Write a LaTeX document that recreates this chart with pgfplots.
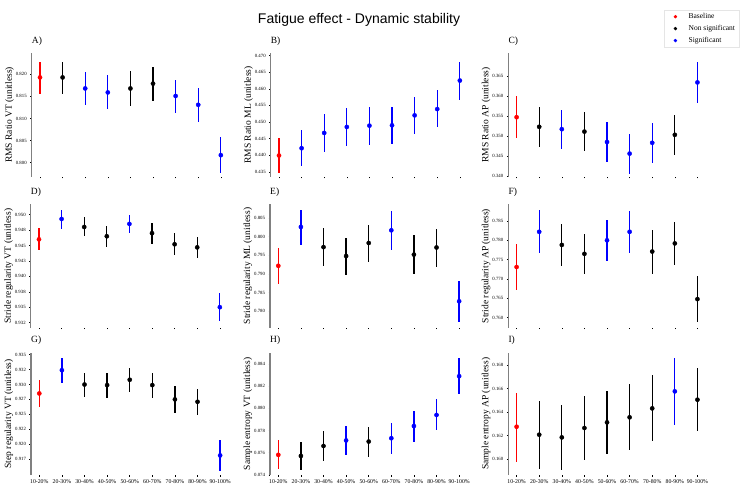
\documentclass[border=0pt]{standalone}
\usepackage{fontspec}
\setmainfont{Liberation Serif}
\newfontfamily\titlefont{Liberation Sans}
\usepackage{pgfplots}
\pgfplotsset{compat=1.18}

\pgfplotsset{
  panel/.style={
    scale only axis, width=197.5pt, xmin=0.633, xmax=9.37,
    axis y line*=left, axis x line*=bottom,
    x axis line style={draw=none},
    y axis line style={-, draw=gray, line width=1.2pt},
    xtick={1,...,9}, xticklabels={},
    tick align=outside, major tick length=1.5pt,
    tick style={black, line width=0.5pt},
    scaled y ticks=false,
    /pgf/number format/assume math mode=true,
    /pgf/number format/fixed, /pgf/number format/fixed zerofill, /pgf/number format/precision=3,
    yticklabel style={font=\fontsize{4.8}{5}\selectfont},
    xticklabel style={font=\fontsize{5.8}{6}\selectfont},
    ylabel style={font=\fontsize{9.5}{11}\selectfont, at={(axis description cs:-0.112,0.5)}, anchor=center},
    title style={font=\fontsize{9.5}{11}\selectfont, at={(axis description cs:0,1)}, anchor=west, yshift=6pt, inner sep=0pt},
    anchor=south west, clip=false,
  },
  row1/.style={panel, height=124pt},
  row2/.style={panel, height=123.4pt},
  row3/.style={panel, height=122.3pt,
    xticklabels={10-20\%,20-30\%,30-40\%,40-50\%,50-60\%,60-70\%,70-80\%,80-90\%,90-100\%}},
  pt/.style={only marks, mark=*, mark size=2.1pt,
    error bars/y dir=both, error bars/y explicit, error bars/error mark=none},
  redp/.style={pt, red, error bars/error bar style={red, line width=1.3pt}},
  blackp/.style={pt, black, error bars/error bar style={black, line width=1.3pt}},
  bluep/.style={pt, blue, error bars/error bar style={blue, line width=1.3pt}},
}

\begin{document}
\begin{tikzpicture}
\useasboundingbox (0,0) rectangle (750pt,491pt);
\node[font=\titlefont\fontsize{14}{16}\selectfont] at (359pt,471pt) {Fatigue effect - Dynamic stability};

% ---------- row 1 ----------
\begin{axis}[row1, at={(31.7pt,314pt)}, ymin=0.79675, ymax=0.82483,
  ytick={0.800,0.805,0.810,0.815,0.820}, ylabel={RMS Ratio VT (unitless)}, title={A)}]
\addplot[redp] coordinates {(1,0.8193) += (0,0.0036) -= (0,0.0038)};
\addplot[blackp] coordinates {(2,0.8193) += (0,0.0036) -= (0,0.0038)
  (5,0.8168) += (0,0.0039) -= (0,0.0040) (6,0.8179) += (0,0.0038) -= (0,0.0039)};
\addplot[bluep] coordinates {(3,0.8168) += (0,0.0037) -= (0,0.0038)
  (4,0.8159) += (0,0.0039) -= (0,0.0038) (7,0.8151) += (0,0.0037) -= (0,0.0038)
  (8,0.8131) += (0,0.0038) -= (0,0.0038) (9,0.8017) += (0,0.0041) -= (0,0.0041)};
\end{axis}

\begin{axis}[row1, at={(270.7pt,314pt)}, ymin=0.43342, ymax=0.4708,
  ytick={0.435,0.440,0.445,0.450,0.455,0.460,0.465,0.470}, ylabel={RMS Ratio ML (unitless)}, title={B)}]
\addplot[redp] coordinates {(1,0.4399) += (0,0.0052) -= (0,0.0053)};
\addplot[bluep] coordinates {(2,0.4421) += (0,0.0055) -= (0,0.0055)
  (3,0.4467) += (0,0.0056) -= (0,0.0056) (4,0.4485) += (0,0.0056) -= (0,0.0057)
  (5,0.4489) += (0,0.0056) -= (0,0.0058) (6,0.4490) += (0,0.0055) -= (0,0.0057)
  (7,0.4520) += (0,0.0056) -= (0,0.0057) (8,0.4539) += (0,0.0056) -= (0,0.0055)
  (9,0.4625) += (0,0.0057) -= (0,0.0058)};
\end{axis}

\begin{axis}[row1, at={(508.3pt,314pt)}, ymin=0.33975, ymax=0.37075,
  ytick={0.340,0.345,0.350,0.355,0.360,0.365}, ylabel={RMS Ratio AP (unitless)}, title={C)},
  legend style={at={(axis description cs:0.7884,1.35)}, anchor=north west,
    draw=gray!20, fill=white, font=\fontsize{7.5}{9}\selectfont, legend cell align=left,
    row sep=1.2pt, inner xsep=2pt, inner ysep=1.5pt},
  legend image code/.code={\path (0pt,0pt) (20pt,0pt); \draw[#1] plot coordinates {(9pt,0pt)};}]
\addplot[redp, forget plot] coordinates {(1,0.3547) += (0,0.0052) -= (0,0.0053)};
\addplot[blackp, forget plot] coordinates {(2,0.3523) += (0,0.0049) -= (0,0.0051)
  (4,0.3511) += (0,0.0049) -= (0,0.0049) (8,0.3503) += (0,0.0049) -= (0,0.0051)};
\addplot[bluep, forget plot] coordinates {(3,0.3517) += (0,0.0049) -= (0,0.0050)
  (5,0.3485) += (0,0.0049) -= (0,0.0050) (6,0.3456) += (0,0.0049) -= (0,0.0050)
  (7,0.3483) += (0,0.0049) -= (0,0.0050) (9,0.3634) += (0,0.0052) -= (0,0.0052)};
\addlegendimage{only marks, mark=*, mark size=1.5pt, red}
\addlegendentry{Baseline}
\addlegendimage{only marks, mark=*, mark size=1.5pt, black}
\addlegendentry{Non significant}
\addlegendimage{only marks, mark=*, mark size=1.5pt, blue}
\addlegendentry{Significant}
\end{axis}

% ---------- row 2 ----------
\begin{axis}[row2, at={(30.7pt,163.3pt)}, ymin=0.93168, ymax=0.95168,
  ytick={0.9325,0.935,0.9375,0.940,0.9425,0.945,0.9475,0.950},
  yticklabels={0.932,0.935,0.938,0.940,0.943,0.945,0.948,0.950},
  ylabel={Stride regularity VT (unitless)}, title={D)}]
\addplot[redp] coordinates {(1,0.9460) += (0,0.0018) -= (0,0.0018)};
\addplot[blackp] coordinates {(3,0.9480) += (0,0.0016) -= (0,0.0015)
  (4,0.9465) += (0,0.0016) -= (0,0.0017) (6,0.9470) += (0,0.0016) -= (0,0.0017)
  (7,0.9452) += (0,0.0018) -= (0,0.0018) (8,0.9447) += (0,0.0017) -= (0,0.0017)};
\addplot[bluep] coordinates {(2,0.9493) += (0,0.0015) -= (0,0.0016)
  (5,0.9485) += (0,0.0014) -= (0,0.0015) (9,0.9350) += (0,0.0023) -= (0,0.0023)};
\end{axis}

\begin{axis}[row2, at={(270pt,163.3pt)}, ymin=0.77563, ymax=0.80866,
  ytick={0.780,0.785,0.790,0.795,0.800,0.805}, ylabel={Stride regularity ML (unitless)}, title={E)}]
\addplot[redp] coordinates {(1,0.7922) += (0,0.0048) -= (0,0.0049)};
\addplot[blackp] coordinates {(3,0.7972) += (0,0.0051) -= (0,0.0051)
  (4,0.7948) += (0,0.0048) -= (0,0.0051) (5,0.7983) += (0,0.0049) -= (0,0.0050)
  (7,0.7952) += (0,0.0053) -= (0,0.0053) (8,0.7971) += (0,0.0050) -= (0,0.0052)};
\addplot[bluep] coordinates {(2,0.8026) += (0,0.0045) -= (0,0.0048)
  (6,0.8017) += (0,0.0051) -= (0,0.0053) (9,0.7827) += (0,0.0054) -= (0,0.0055)};
\end{axis}

\begin{axis}[row2, at={(508.3pt,163.3pt)}, ymin=0.75741, ymax=0.78931,
  ytick={0.760,0.765,0.770,0.775,0.780,0.785}, ylabel={Stride regularity AP (unitless)}, title={F)}]
\addplot[redp] coordinates {(1,0.7731) += (0,0.0059) -= (0,0.0059)};
\addplot[blackp] coordinates {(3,0.7788) += (0,0.0054) -= (0,0.0054)
  (4,0.7765) += (0,0.0052) -= (0,0.0053) (7,0.7771) += (0,0.0056) -= (0,0.0057)
  (8,0.7792) += (0,0.0055) -= (0,0.0055) (9,0.7648) += (0,0.0060) -= (0,0.0060)};
\addplot[bluep] coordinates {(2,0.7822) += (0,0.0056) -= (0,0.0056)
  (5,0.7800) += (0,0.0053) -= (0,0.0053) (6,0.7822) += (0,0.0054) -= (0,0.0054)};
\end{axis}

% ---------- row 3 ----------
\begin{axis}[row3, at={(31pt,16pt)}, ymin=0.91481, ymax=0.93534,
  ytick={0.9175,0.920,0.9225,0.925,0.9275,0.930,0.9325,0.935},
  yticklabels={0.917,0.920,0.922,0.925,0.927,0.930,0.932,0.935},
  ylabel={Step regularity VT (unitless)}, title={G)}]
\addplot[redp] coordinates {(1,0.9285) += (0,0.0022) -= (0,0.0022)};
\addplot[blackp] coordinates {(3,0.9300) += (0,0.0020) -= (0,0.0021)
  (4,0.9299) += (0,0.0020) -= (0,0.0021) (5,0.9308) += (0,0.0020) -= (0,0.0021)
  (6,0.9299) += (0,0.0020) -= (0,0.0021) (7,0.9275) += (0,0.0022) -= (0,0.0022)
  (8,0.9271) += (0,0.0022) -= (0,0.0022)};
\addplot[bluep] coordinates {(2,0.9324) += (0,0.0020) -= (0,0.0021)
  (9,0.9181) += (0,0.0026) -= (0,0.0026)};
\end{axis}

\begin{axis}[row3, at={(270pt,16pt)}, ymin=0.07398, ymax=0.08502,
  ytick={0.074,0.076,0.078,0.080,0.082,0.084}, ylabel={Sample entropy VT (unitless)}, title={H)}]
\addplot[redp] coordinates {(1,0.0758) += (0,0.00135) -= (0,0.00132)};
\addplot[blackp] coordinates {(2,0.0757) += (0,0.0013) -= (0,0.0013)
  (3,0.0766) += (0,0.00135) -= (0,0.00135) (5,0.0770) += (0,0.00135) -= (0,0.0014)};
\addplot[bluep] coordinates {(4,0.0771) += (0,0.0013) -= (0,0.0013)
  (6,0.0773) += (0,0.0014) -= (0,0.0014) (7,0.0784) += (0,0.0014) -= (0,0.0014)
  (8,0.0794) += (0,0.0014) -= (0,0.0014) (9,0.0829) += (0,0.0016) -= (0,0.0016)};
\end{axis}

\begin{axis}[row3, at={(508.3pt,16pt)}, ymin=0.15864, ymax=0.16905,
  ytick={0.160,0.162,0.164,0.166,0.168}, ylabel={Sample entropy AP (unitless)}, title={I)}]
\addplot[redp] coordinates {(1,0.16275) += (0,0.0029) -= (0,0.0030)};
\addplot[blackp] coordinates {(2,0.16207) += (0,0.0029) -= (0,0.0029)
  (3,0.16184) += (0,0.0028) -= (0,0.0028) (4,0.16264) += (0,0.0027) -= (0,0.0027)
  (5,0.16312) += (0,0.0027) -= (0,0.0027) (6,0.16355) += (0,0.0028) -= (0,0.0028)
  (7,0.16431) += (0,0.0028) -= (0,0.0028) (9,0.16505) += (0,0.0027) -= (0,0.0027)};
\addplot[bluep] coordinates {(8,0.16576) += (0,0.0028) -= (0,0.0029)};
\end{axis}
\end{tikzpicture}
\end{document}
